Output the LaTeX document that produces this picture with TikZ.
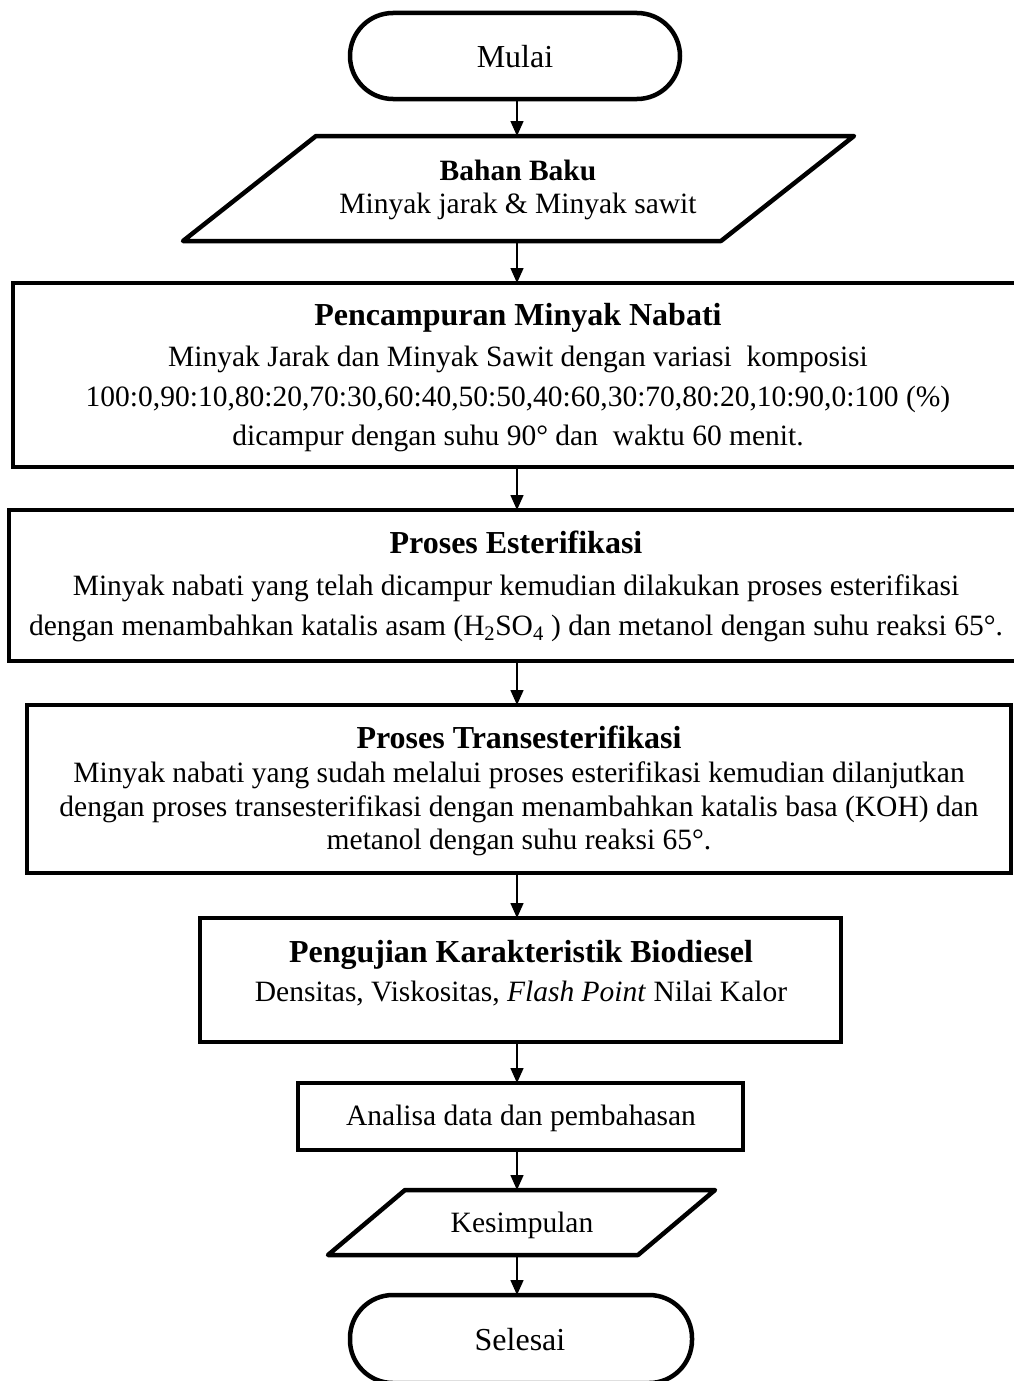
\documentclass[tikz,border=0pt]{standalone}
\usepackage{fontspec}
\setmainfont{Liberation Serif}
\usetikzlibrary{arrows.meta}

\begin{document}
\begin{tikzpicture}[x=1pt,y=-1pt,
  boxline/.style={line width=4.5pt},
  procbox/.style={boxline, draw, rectangle, inner sep=0pt, outer sep=0pt},
  termbox/.style={boxline, draw, rectangle, rounded corners=43pt, inner sep=0pt, outer sep=0pt},
  iobody/.style={rectangle, inner sep=0pt, outer sep=2pt},
  txt/.style={inner sep=0pt, anchor=base, font=\fontsize{29.5}{36}\selectfont},
  bigtxt/.style={txt, font=\fontsize{32}{38}\selectfont},
  ttl/.style={txt, font=\fontsize{29.5}{36}\selectfont\bfseries},
  bigttl/.style={txt, font=\fontsize{32}{38}\selectfont\bfseries},
  flow/.style={line width=1.5pt, -{Triangle[length=15pt,width=13pt]}}
]
\clip (0,0) rectangle (1014,1381);

% spine along which the connectors run
\coordinate (spine) at (517,0);

% ---- shapes ----
\node[termbox, minimum width=330pt, minimum height=86pt] (mulai) at (515,56) {};

\node[iobody, minimum width=534pt, minimum height=101pt] (bahan) at (518.5,188.5) {};
\draw[boxline, line join=round]
  ([xshift=66.5pt]bahan.north west) -- ([xshift=66.5pt]bahan.north east)
  -- ([xshift=-66.5pt]bahan.south east) -- ([xshift=-66.5pt]bahan.south west) -- cycle;

\node[procbox, minimum width=1008pt, minimum height=184pt] (campur) at (517,375) {};
\node[procbox, minimum width=1016pt, minimum height=151pt] (ester) at (517,585.5) {};
\node[procbox, minimum width=984pt, minimum height=168pt] (trans) at (519,789) {};
\node[procbox, minimum width=641pt, minimum height=124pt] (uji) at (520.5,980) {};
\node[procbox, minimum width=445pt, minimum height=67pt] (analisa) at (520.5,1116.5) {};

\node[iobody, minimum width=306pt, minimum height=61pt] (simpul) at (521.5,1222.5) {};
\draw[boxline, line join=round]
  ([xshift=38.5pt]simpul.north west) -- ([xshift=38.5pt]simpul.north east)
  -- ([xshift=-38.5pt]simpul.south east) -- ([xshift=-38.5pt]simpul.south west) -- cycle;

\node[termbox, minimum width=342pt, minimum height=88pt] (selesai) at (521,1339) {};

% ---- texts ----
\node[bigtxt] (tmulai) at (515,67) {Mulai};

\node[ttl] (tbahan1) at (518,180) {Bahan Baku};
\node[txt] (tbahan2) at (518,213) {Minyak jarak \& Minyak sawit};

\node[bigttl] (tcampur1) at (518,325) {Pencampuran Minyak Nabati};
\node[txt] (tcampur2) at (518,366) {Minyak Jarak dan Minyak Sawit dengan variasi\ \ komposisi};
\node[txt] (tcampur3) at (518,406) {100:0,90:10,80:20,70:30,60:40,50:50,40:60,30:70,80:20,10:90,0:100 (\%)};
\node[txt] (tcampur4) at (518,445) {dicampur dengan suhu 90° dan\ \ waktu 60 menit.};

\node[bigttl] (tester1) at (516,553) {Proses Esterifikasi};
\node[txt] (tester2) at (516,595) {Minyak nabati yang telah dicampur kemudian dilakukan proses esterifikasi};
\node[txt] (tester3) at (516,635) {dengan menambahkan katalis asam (H\textsubscript{2}SO\textsubscript{4} ) dan metanol dengan suhu reaksi 65°.};

\node[bigttl] (ttrans1) at (519,748) {Proses Transesterifikasi};
\node[txt] (ttrans2) at (519,782) {Minyak nabati yang sudah melalui proses esterifikasi kemudian dilanjutkan};
\node[txt] (ttrans3) at (519,816) {dengan proses transesterifikasi dengan menambahkan katalis basa (KOH) dan};
\node[txt] (ttrans4) at (519,849) {metanol dengan suhu reaksi 65°.};

\node[bigttl] (tuji1) at (521,962) {Pengujian Karakteristik Biodiesel};
\node[txt] (tuji2) at (521,1001) {Densitas, Viskositas, \textit{Flash Point} Nilai Kalor};

\node[txt] (tanalisa) at (521,1125) {Analisa data dan pembahasan};
\node[txt] (tsimpul) at (522,1232) {Kesimpulan};
\node[bigtxt] (tselesai) at (520,1350) {Selesai};

% ---- connectors ----
\draw[flow] (spine |- mulai.south) -- (spine |- bahan.north);
\draw[flow] (spine |- bahan.south) -- (spine |- campur.north);
\draw[flow] (spine |- campur.south) -- (spine |- ester.north);
\draw[flow] (spine |- ester.south) -- (spine |- trans.north);
\draw[flow] (spine |- trans.south) -- (spine |- uji.north);
\draw[flow] (spine |- uji.south) -- (spine |- analisa.north);
\draw[flow] (spine |- analisa.south) -- (spine |- simpul.north);
\draw[flow] (spine |- simpul.south) -- (spine |- selesai.north);
\end{tikzpicture}
\end{document}
